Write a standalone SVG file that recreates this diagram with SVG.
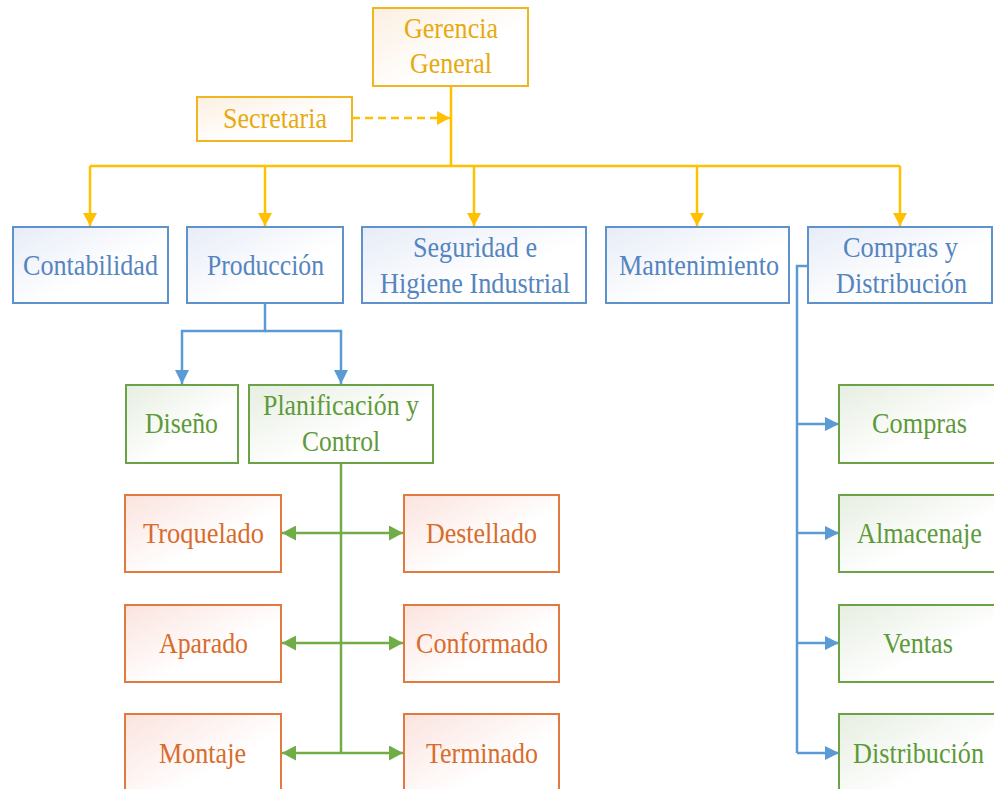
<svg xmlns="http://www.w3.org/2000/svg" width="994" height="789" viewBox="0 0 994 789">
  <defs>
    <linearGradient id="gGold" x1="0" y1="0" x2="1" y2="1">
      <stop offset="0" stop-color="#FCEFE0"/>
      <stop offset="0.6" stop-color="#FFFFFF"/>
    </linearGradient>
    <linearGradient id="gBlue" x1="0" y1="0" x2="1" y2="1">
      <stop offset="0" stop-color="#E6ECF7"/>
      <stop offset="0.6" stop-color="#FFFFFF"/>
    </linearGradient>
    <linearGradient id="gGreen" x1="0" y1="0" x2="1" y2="1">
      <stop offset="0" stop-color="#E6EEE1"/>
      <stop offset="0.6" stop-color="#FFFFFF"/>
    </linearGradient>
    <linearGradient id="gOrange" x1="0" y1="0" x2="1" y2="1">
      <stop offset="0" stop-color="#FBE3DE"/>
      <stop offset="0.6" stop-color="#FFFFFF"/>
    </linearGradient>
    <marker id="aGold" markerUnits="userSpaceOnUse" markerWidth="14" markerHeight="14" refX="13" refY="7" orient="auto">
      <path d="M0,0 L13,7 L0,14 Z" fill="#FFC000"/>
    </marker>
    <marker id="aBlue" markerUnits="userSpaceOnUse" markerWidth="15" markerHeight="14" refX="14" refY="7" orient="auto">
      <path d="M0,0 L14,7 L0,14 Z" fill="#5B9BD5"/>
    </marker>
    <marker id="aGreen" markerUnits="userSpaceOnUse" markerWidth="15" markerHeight="15" refX="14" refY="7.5" orient="auto-start-reverse">
      <path d="M0,0 L14,7.5 L0,15 Z" fill="#70AD47"/>
    </marker>
  </defs>
  <style>
    text { font-size: 29px; text-anchor: middle; }
    rect { stroke-width: 2; }
    .gold rect { fill: url(#gGold); stroke: #F0B520; }
    .gold text { fill: #E6AA10; }
    .blue rect { fill: url(#gBlue); stroke: #5E92CC; }
    .blue text { fill: #5585C0; }
    .green rect { fill: url(#gGreen); stroke: #6BA247; }
    .green text { fill: #5E9A3A; }
    .orange rect { fill: url(#gOrange); stroke: #E07A3E; }
    .orange text { fill: #D86C2C; }
    .c { fill: none; stroke-width: 2.5; }
    .cg { stroke: #FFC000; }
    .cb { stroke: #5B9BD5; }
    .cn { stroke: #70AD47; }
  </style>

  <!-- connectors -->
  <g id="connectors">
    <path class="c cg" d="M451,86 V166 M90,166 H900"/>
    <path class="c cg" d="M352,118 H450" stroke-dasharray="8 5" marker-end="url(#aGold)"/>
    <path class="c cg" d="M90,166 V226" marker-end="url(#aGold)"/>
    <path class="c cg" d="M265,166 V226" marker-end="url(#aGold)"/>
    <path class="c cg" d="M474,166 V226" marker-end="url(#aGold)"/>
    <path class="c cg" d="M697,166 V226" marker-end="url(#aGold)"/>
    <path class="c cg" d="M900,166 V226" marker-end="url(#aGold)"/>

    <path class="c cb" d="M265,303 V331 H182 V384" marker-end="url(#aBlue)"/>
    <path class="c cb" d="M265,331 H341 V384" marker-end="url(#aBlue)"/>

    <path class="c cn" d="M341,463 V753"/>
    <path class="c cn" d="M282,533 H403" marker-start="url(#aGreen)" marker-end="url(#aGreen)"/>
    <path class="c cn" d="M282,643 H403" marker-start="url(#aGreen)" marker-end="url(#aGreen)"/>
    <path class="c cn" d="M282,753 H403" marker-start="url(#aGreen)" marker-end="url(#aGreen)"/>

    <path class="c cb" d="M808,266 H797 V753"/>
    <path class="c cb" d="M797,424 H839" marker-end="url(#aBlue)"/>
    <path class="c cb" d="M797,533 H839" marker-end="url(#aBlue)"/>
    <path class="c cb" d="M797,643 H839" marker-end="url(#aBlue)"/>
    <path class="c cb" d="M797,753 H839" marker-end="url(#aBlue)"/>
  </g>

  <g font-family="'Liberation Serif', 'Times New Roman', serif">
  <!-- top management -->
  <g id="gerencia" class="gold">
    <rect x="373" y="8" width="155" height="78"/>
    <text x="451" y="38" textLength="94" lengthAdjust="spacingAndGlyphs">Gerencia</text>
    <text x="451" y="73" textLength="82" lengthAdjust="spacingAndGlyphs">General</text>
  </g>
  <g id="secretaria" class="gold">
    <rect x="197" y="97" width="155" height="44"/>
    <text x="275" y="128" textLength="104" lengthAdjust="spacingAndGlyphs">Secretaria</text>
  </g>

  <!-- departments -->
  <g id="contabilidad" class="blue">
    <rect x="13" y="227" width="155" height="76"/>
    <text x="90.5" y="275" textLength="135" lengthAdjust="spacingAndGlyphs">Contabilidad</text>
  </g>
  <g id="produccion" class="blue">
    <rect x="187" y="227" width="156" height="76"/>
    <text x="265.5" y="275" textLength="117" lengthAdjust="spacingAndGlyphs">Producción</text>
  </g>
  <g id="seguridad" class="blue">
    <rect x="362" y="227" width="224" height="76"/>
    <text x="475" y="257" textLength="124" lengthAdjust="spacingAndGlyphs">Seguridad e</text>
    <text x="475" y="293" textLength="190" lengthAdjust="spacingAndGlyphs">Higiene Industrial</text>
  </g>
  <g id="mantenimiento" class="blue">
    <rect x="606" y="227" width="183" height="76"/>
    <text x="699" y="275" textLength="160" lengthAdjust="spacingAndGlyphs">Mantenimiento</text>
  </g>
  <g id="compras-distribucion" class="blue">
    <rect x="808" y="227" width="184" height="76"/>
    <text x="900.5" y="257" textLength="115" lengthAdjust="spacingAndGlyphs">Compras y</text>
    <text x="901.5" y="293" textLength="131" lengthAdjust="spacingAndGlyphs">Distribución</text>
  </g>

  <!-- production areas -->
  <g id="diseno" class="green">
    <rect x="126" y="385" width="112" height="78"/>
    <text x="181.5" y="433" textLength="73" lengthAdjust="spacingAndGlyphs">Diseño</text>
  </g>
  <g id="planificacion" class="green">
    <rect x="249" y="385" width="184" height="78"/>
    <text x="341" y="415" textLength="156" lengthAdjust="spacingAndGlyphs">Planificación y</text>
    <text x="341" y="451" textLength="78" lengthAdjust="spacingAndGlyphs">Control</text>
  </g>

  <g id="troquelado" class="orange">
    <rect x="125" y="495" width="156" height="77"/>
    <text x="203.5" y="543" textLength="121" lengthAdjust="spacingAndGlyphs">Troquelado</text>
  </g>
  <g id="destellado" class="orange">
    <rect x="404" y="495" width="155" height="77"/>
    <text x="481.5" y="543" textLength="111" lengthAdjust="spacingAndGlyphs">Destellado</text>
  </g>
  <g id="aparado" class="orange">
    <rect x="125" y="605" width="156" height="77"/>
    <text x="203.5" y="653" textLength="89" lengthAdjust="spacingAndGlyphs">Aparado</text>
  </g>
  <g id="conformado" class="orange">
    <rect x="404" y="605" width="155" height="77"/>
    <text x="482" y="653" textLength="132" lengthAdjust="spacingAndGlyphs">Conformado</text>
  </g>
  <g id="montaje" class="orange">
    <rect x="125" y="714" width="156" height="90"/>
    <text x="202.5" y="763" textLength="87" lengthAdjust="spacingAndGlyphs">Montaje</text>
  </g>
  <g id="terminado" class="orange">
    <rect x="404" y="714" width="155" height="90"/>
    <text x="482" y="763" textLength="112" lengthAdjust="spacingAndGlyphs">Terminado</text>
  </g>

  <!-- distribution areas -->
  <g id="compras" class="green">
    <rect x="839" y="385" width="162" height="78"/>
    <text x="919.5" y="433" textLength="95" lengthAdjust="spacingAndGlyphs">Compras</text>
  </g>
  <g id="almacenaje" class="green">
    <rect x="839" y="495" width="162" height="77"/>
    <text x="919.5" y="543" textLength="125" lengthAdjust="spacingAndGlyphs">Almacenaje</text>
  </g>
  <g id="ventas" class="green">
    <rect x="839" y="605" width="162" height="77"/>
    <text x="918" y="653" textLength="70" lengthAdjust="spacingAndGlyphs">Ventas</text>
  </g>
  <g id="distribucion" class="green">
    <rect x="839" y="714" width="162" height="90"/>
    <text x="918.5" y="763" textLength="131" lengthAdjust="spacingAndGlyphs">Distribución</text>
  </g>
  </g>
</svg>
